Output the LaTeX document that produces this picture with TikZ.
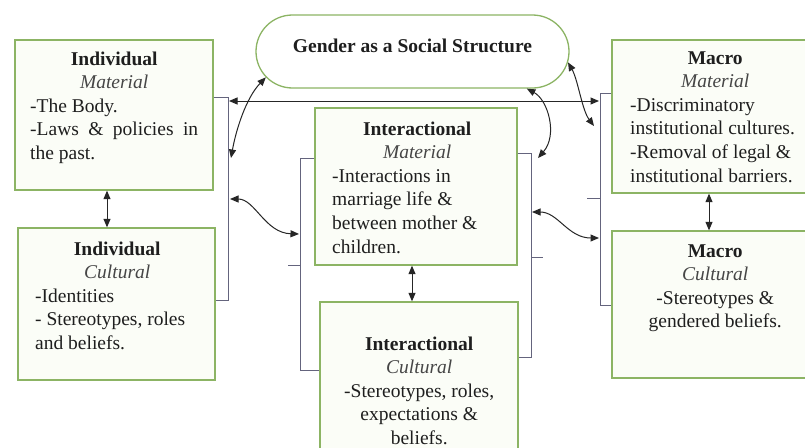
\documentclass[tikz,border=0pt]{standalone}
\usepackage{fontspec}
\setmainfont{Liberation Serif}
\usetikzlibrary{arrows.meta,shapes.misc}
\definecolor{boxline}{RGB}{140,180,100}
\definecolor{boxfill}{RGB}{251,253,247}
\definecolor{brk}{RGB}{100,100,125}
\definecolor{txt}{RGB}{30,30,30}
\definecolor{itx}{RGB}{70,70,70}
\begin{document}
\begin{tikzpicture}[x=1pt,y=-1pt,
  panel/.style={draw=boxline, fill=boxfill, line width=1.3pt, rectangle, inner sep=0pt},
  label/.style={inner sep=0pt, anchor=base west, text=txt, font=\fontsize{19.5}{23.6}\selectfont},
  bracket/.style={draw=brk, line width=1pt},
  link/.style={draw=black!85, line width=1pt, {Triangle[length=8.5pt,width=7pt]}-{Triangle[length=8.5pt,width=7pt]}},
]
\useasboundingbox (0,0) rectangle (805,447);
\fill[white] (0,0) rectangle (805,447);

% boxes
\node[panel, minimum width=198pt, minimum height=150pt] (im) at (114,115) {};
\node[panel, minimum width=197pt, minimum height=152pt] (ic) at (116.5,304) {};
\node[panel, minimum width=202pt, minimum height=157pt] (imat) at (416,186.5) {};
\node[panel, minimum width=198pt, minimum height=153pt] (icul) at (419,378.5) {};
\node[panel, minimum width=206pt, minimum height=153pt] (mm) at (715,116.5) {};
\node[panel, minimum width=206pt, minimum height=147pt] (mc) at (715,304.5) {};
\node[draw=boxline, fill=white, line width=1.3pt, rounded rectangle, inner sep=0pt,
      minimum width=313pt, minimum height=73pt] (gs) at (412.5,51.5) {};

% texts
\node[label, anchor=base] (gst) at (412.5,52.5) {\textbf{Gender as a Social Structure}};
\node[label] (imt) at (30,65) {\parbox[t]{168pt}{\centering\textbf{Individual}\\\textcolor{itx}{\textit{Material}}\par\raggedright -The Body.\\\makebox[\linewidth][s]{-Laws \& policies in}\\the past.}};
\node[label] (ict) at (35,255) {\parbox[t]{164pt}{\centering\textbf{Individual}\\\textcolor{itx}{\textit{Cultural}}\par\raggedright -Identities\\- Stereotypes, roles\\and beliefs.}};
\node[label] (imatt) at (332,135) {\parbox[t]{170pt}{\centering\textbf{Interactional}\\\textcolor{itx}{\textit{Material}}\par\raggedright -Interactions in\\marriage life \&\\between mother \&\\children.}};
\node[label] (icult) at (330,350) {\parbox[t]{178pt}{\centering\textbf{Interactional}\\\textcolor{itx}{\textit{Cultural}}\\-Stereotypes, roles,\\expectations \&\\beliefs.}};
\node[label] (mmt) at (630,64) {\parbox[t]{170pt}{\centering\textbf{Macro}\\\textcolor{itx}{\textit{Material}}\par\raggedright -Discriminatory\\institutional cultures.\\-Removal of legal \&\\institutional barriers.}};
\node[label] (mct) at (630,257) {\parbox[t]{170pt}{\centering\textbf{Macro}\\\textcolor{itx}{\textit{Cultural}}\\-Stereotypes \&\\gendered beliefs.}};

% brackets
\coordinate (lbT) at (228,97);  \coordinate (lbB) at (228,300);
\draw[bracket] (lbT -| im.east) -- (lbT) -- (lbB) -- (lbB -| ic.east);
\coordinate (mlT) at (300,158); \coordinate (mlB) at (300,370); \coordinate (mlM) at (300,265);
\draw[bracket] (mlT -| imat.west) -- (mlT) -- (mlB) -- (mlB -| icul.west);
\draw[bracket] (mlM) -- ++(-12,0);
\coordinate (mrT) at (531,153); \coordinate (mrB) at (531,357); \coordinate (mrM) at (531,257);
\draw[bracket] (mrT -| imat.east) -- (mrT) -- (mrB) -- (mrB -| icul.east);
\draw[bracket] (mrM) -- ++(12,0);
\coordinate (rbT) at (600,93);  \coordinate (rbB) at (600,305); \coordinate (rbM) at (600,198);
\draw[bracket] (rbT -| mm.west) -- (rbT) -- (rbB) -- (rbB -| mc.west);
\draw[bracket] (rbM) -- ++(-13,0);

% straight links
\coordinate (lbH) at (229,101); \coordinate (rbH) at (599,101);
\draw[link] (lbH) -- (rbH);
\coordinate (xa) at (107,0); \coordinate (xb) at (412,0); \coordinate (xc) at (709,0);
\draw[link] (im.south -| xa) -- (ic.north -| xa);
\draw[link] (imat.south -| xb) -- (icul.north -| xb);
\draw[link] (mm.south -| xc) -- (mc.north -| xc);

% curved links
\coordinate (lbA) at (231,158); \coordinate (lbC) at (230,199); \coordinate (mlC) at (299,234);
\coordinate (mrA) at (538,158); \coordinate (mrC) at (532,212);
\coordinate (rbA) at (594,126); \coordinate (rbC) at (599,238);
\draw[link] (gs.190) .. controls (246,98) and (236,130) .. (lbA);
\draw[link] (gs.-18) .. controls (548,100) and (558,135) .. (mrA);
\draw[link] (gs.-4) .. controls (578,80) and (582,110) .. (rbA);
\draw[link] (lbC) .. controls (255,199) and (265,233) .. (mlC);
\draw[link] (mrC) .. controls (558,212) and (568,238) .. (rbC);
\end{tikzpicture}
\end{document}
